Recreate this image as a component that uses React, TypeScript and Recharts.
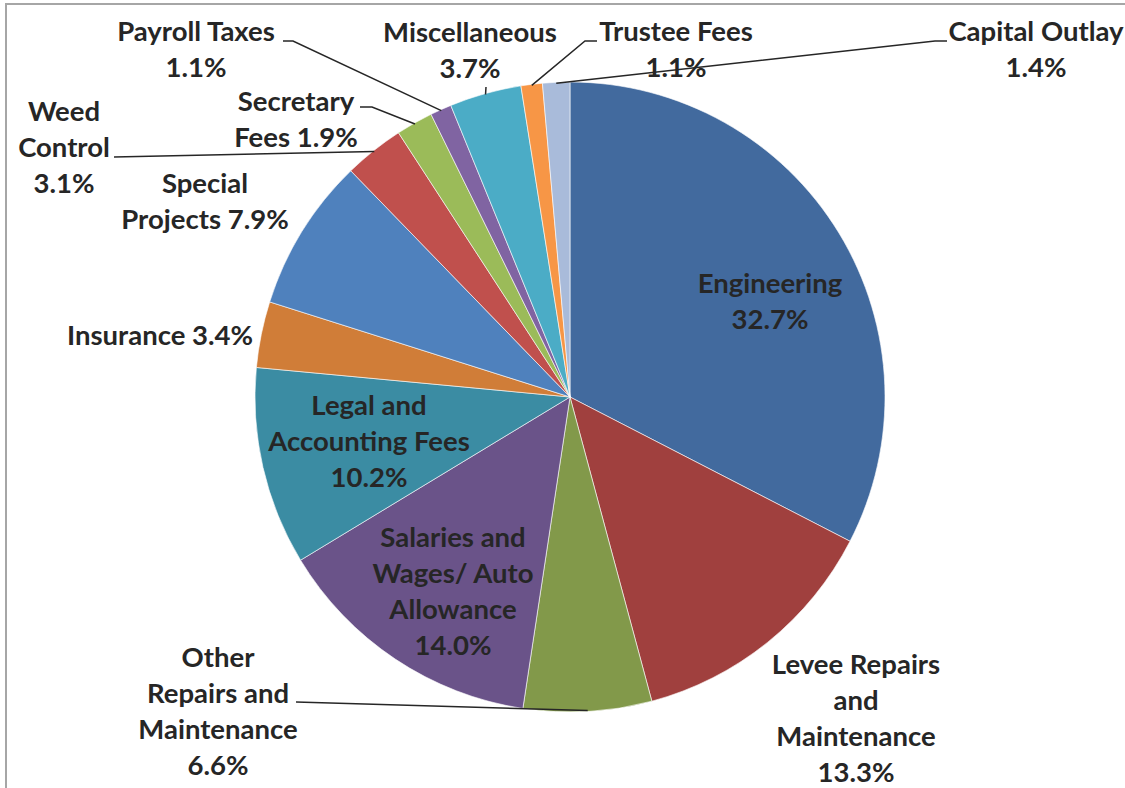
import { Cell, Pie, PieChart } from "recharts";

const CATEGORIES = [
  "Engineering",
  "Levee Repairs and Maintenance",
  "Other Repairs and Maintenance",
  "Salaries and Wages/ Auto Allowance",
  "Legal and Accounting Fees",
  "Insurance",
  "Special Projects",
  "Weed Control",
  "Secretary Fees",
  "Payroll Taxes",
  "Miscellaneous",
  "Trustee Fees",
  "Capital Outlay",
];

const SHARES = [32.7, 13.3, 6.6, 14.0, 10.2, 3.4, 7.9, 3.1, 1.9, 1.1, 3.7, 1.1, 1.4];

const COLORS = [
  "#426a9e",
  "#a0403e",
  "#82994a",
  "#6a5389",
  "#3b8ca3",
  "#d07d38",
  "#4f81bd",
  "#c0504d",
  "#9bbb59",
  "#8064a2",
  "#4bacc6",
  "#f79646",
  "#a9bbda",
];

const data = CATEGORIES.map((name, i) => ({ name, value: SHARES[i] }));

// label placement, offsets from the pie centre
type LabelSpot = {
  lines: string[];
  pctInline: boolean;
  dx: number;
  dy: number;
  anchor?: "middle" | "end";
  leader?: [number, number][];
};

const LABELS: Record<string, LabelSpot> = {
  Engineering: { lines: ["Engineering"], pctInline: false, dx: 200, dy: -115 },
  "Levee Repairs and Maintenance": {
    lines: ["Levee Repairs", "and", "Maintenance"],
    pctInline: false,
    dx: 286,
    dy: 266,
  },
  "Other Repairs and Maintenance": {
    lines: ["Other", "Repairs and", "Maintenance"],
    pctInline: false,
    dx: -352,
    dy: 259,
    leader: [[-274, 305]],
  },
  "Salaries and Wages/ Auto Allowance": {
    lines: ["Salaries and", "Wages/ Auto", "Allowance"],
    pctInline: false,
    dx: -117,
    dy: 139,
  },
  "Legal and Accounting Fees": {
    lines: ["Legal and", "Accounting Fees"],
    pctInline: false,
    dx: -201,
    dy: 7,
  },
  Insurance: { lines: ["Insurance"], pctInline: true, dx: -317, dy: -63, anchor: "end" },
  "Special Projects": { lines: ["Special", "Projects"], pctInline: true, dx: -365, dy: -215 },
  "Weed Control": {
    lines: ["Weed", "Control"],
    pctInline: false,
    dx: -506,
    dy: -287,
    leader: [[-456, -240]],
  },
  "Secretary Fees": {
    lines: ["Secretary", "Fees"],
    pctInline: true,
    dx: -274,
    dy: -297,
    leader: [
      [-210, -290],
      [-198, -290],
    ],
  },
  "Payroll Taxes": {
    lines: ["Payroll Taxes"],
    pctInline: false,
    dx: -374,
    dy: -367,
    leader: [
      [-287, -356],
      [-277, -356],
    ],
  },
  Miscellaneous: {
    lines: ["Miscellaneous"],
    pctInline: false,
    dx: -100,
    dy: -366,
    leader: [[-84, -310]],
  },
  "Trustee Fees": {
    lines: ["Trustee Fees"],
    pctInline: false,
    dx: 106,
    dy: -367,
    leader: [
      [27, -356],
      [15, -356],
    ],
  },
  "Capital Outlay": {
    lines: ["Capital Outlay"],
    pctInline: false,
    dx: 466,
    dy: -367,
    leader: [
      [377, -356],
      [365, -356],
    ],
  },
};

const RADIAN = Math.PI / 180;
const LINE_H = 36;
const TEXT = "#262626";

function renderLabel(props: any) {
  const { cx, cy, midAngle, outerRadius, name, value } = props;
  const spot = LABELS[name];
  if (!spot) return null;

  const pct = `${Number(value).toFixed(1)}%`;
  const lines = spot.pctInline
    ? [...spot.lines.slice(0, -1), `${spot.lines[spot.lines.length - 1]} ${pct}`]
    : [...spot.lines, pct];

  let leader = null;
  if (spot.leader) {
    const ex = cx + (outerRadius - 1) * Math.cos(-midAngle * RADIAN);
    const ey = cy + (outerRadius - 1) * Math.sin(-midAngle * RADIAN);
    const pts = [...spot.leader.map(([x, y]) => [cx + x, cy + y]), [ex, ey]];
    leader = (
      <polyline
        points={pts.map((p) => p.join(",")).join(" ")}
        fill="none"
        stroke={TEXT}
        strokeWidth={1.5}
      />
    );
  }

  return (
    <g key={`label-${name}`}>
      {leader}
      {lines.map((line, i) => (
        <text
          key={i}
          x={cx + spot.dx}
          y={cy + spot.dy + i * LINE_H}
          textAnchor={spot.anchor ?? "middle"}
          dominantBaseline="central"
          fill={TEXT}
          fontSize={27.5}
          fontWeight={700}
          fontFamily="Lato, 'Open Sans', sans-serif"
        >
          {line}
        </text>
      ))}
    </g>
  );
}

export default function App() {
  return (
    <div style={{ position: "absolute", left: 0, top: 0, width: 1125, height: 788, background: "#fff" }}>
      <div
        style={{
          position: "absolute",
          left: 5,
          top: 3,
          right: 0,
          bottom: 0,
          borderTop: "2px solid #a6a6a6",
          borderLeft: "2px solid #a6a6a6",
        }}
      />
      <PieChart
        width={1125}
        height={788}
        margin={{ top: 0, right: 0, bottom: 0, left: 0 }}
        style={{ position: "absolute", left: 0, top: 0 }}
      >
        <Pie
          data={data}
          dataKey="value"
          nameKey="name"
          cx={570}
          cy={397}
          outerRadius={315}
          startAngle={90}
          endAngle={-270}
          stroke="#ffffff"
          strokeWidth={0.6}
          label={renderLabel}
          labelLine={false}
          isAnimationActive={false}
        >
          {data.map((entry, index) => (
            <Cell key={entry.name} fill={COLORS[index]} />
          ))}
        </Pie>
      </PieChart>
    </div>
  );
}
